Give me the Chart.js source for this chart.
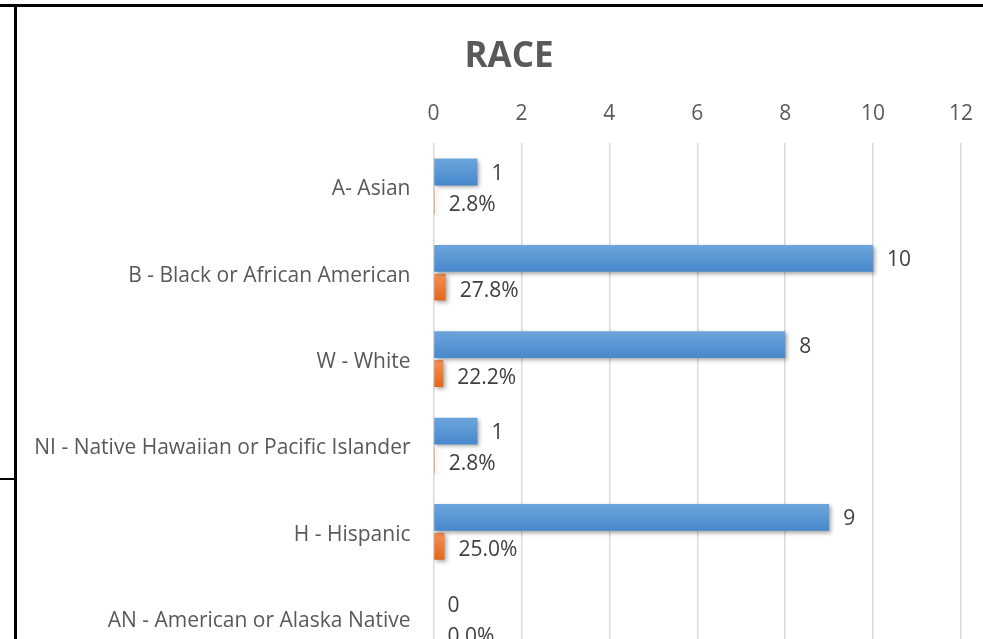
<!DOCTYPE html>
<html>
<head>
<meta charset="utf-8">
<script src="https://cdn.jsdelivr.net/npm/chart.js@4/dist/chart.umd.min.js"></script>
<style>
  html, body { margin: 0; padding: 0; background: #fff; overflow: hidden; width: 983px; height: 639px; }
  #wrap { position: absolute; left: 17px; top: 7px; width: 966px; height: 690px; }
  .ln { position: absolute; background: #000; }
</style>
</head>
<body>
<div class="ln" style="left:0;top:4px;width:983px;height:3px;"></div>
<div class="ln" style="left:14px;top:4px;width:3px;height:640px;"></div>
<div class="ln" style="left:0;top:478px;width:15px;height:2px;"></div>
<div id="wrap"><canvas id="c" width="966" height="690"></canvas></div>
<script>
const categories = [
  'A- Asian',
  'B - Black or African American',
  'W - White',
  'NI - Native Hawaiian or Pacific Islander',
  'H - Hispanic',
  'AN - American or Alaska Native'
];
const counts = [1, 10, 8, 1, 9, 0];
const shares = [0.028, 0.278, 0.222, 0.028, 0.25, 0.0];
const shareLabels = ['2.8%', '27.8%', '22.2%', '2.8%', '25.0%', '0.0%'];
const xTicks = [0, 2, 4, 6, 8, 10, 12];

const FONT = "'Open Sans', 'Noto Sans', sans-serif";
const TXT = '#595959';
const CAT_PCT = 0.667;

function scriptedFill(which, c1, c2) {
  return function (context) {
    const chart = context.chart;
    const y = chart.scales && chart.scales.y;
    if (!y || context.dataIndex === undefined) return c1;
    const center = y.getPixelForValue(context.dataIndex);
    const step = y.getPixelForValue(1) - y.getPixelForValue(0);
    if (!isFinite(center) || !isFinite(step) || step === 0) return c1;
    const half = step * CAT_PCT / 2;
    const top = which === 0 ? center - half : center;
    const bottom = which === 0 ? center : center + half;
    const g = chart.ctx.createLinearGradient(0, top, 0, bottom);
    g.addColorStop(0, c1);
    g.addColorStop(1, c2);
    return g;
  };
}

const shadowPlugin = {
  id: 'shadow',
  beforeDatasetsDraw(chart) {
    const ctx = chart.ctx;
    ctx.save();
    ctx.shadowColor = 'rgba(0,0,0,0.35)';
    ctx.shadowBlur = 4;
    ctx.shadowOffsetX = 2;
    ctx.shadowOffsetY = 2;
  },
  afterDatasetsDraw(chart) {
    chart.ctx.restore();
  }
};

const labelPlugin = {
  id: 'valueLabels',
  afterDatasetsDraw(chart) {
    const ctx = chart.ctx;
    ctx.save();
    ctx.font = '21px ' + FONT;
    ctx.fillStyle = '#404040';
    ctx.textBaseline = 'middle';
    ctx.textAlign = 'left';
    chart.data.datasets.forEach((ds, di) => {
      const meta = chart.getDatasetMeta(di);
      meta.data.forEach((el, i) => {
        const txt = di === 0 ? String(counts[i]) : shareLabels[i];
        ctx.fillText(txt, el.x + 14, el.y + (di === 0 ? 2 : 4));
      });
    });
    ctx.restore();
  }
};

new Chart(document.getElementById('c'), {
  type: 'bar',
  data: {
    labels: categories,
    datasets: [
      {
        label: 'Count',
        data: counts,
        backgroundColor: scriptedFill(0, '#6ea6dd', '#4587cb'),
        categoryPercentage: CAT_PCT,
        barPercentage: 0.93
      },
      {
        label: 'Percent',
        data: shares,
        backgroundColor: scriptedFill(1, '#f49256', '#e3651b'),
        categoryPercentage: CAT_PCT,
        barPercentage: 0.93
      }
    ]
  },
  options: {
    indexAxis: 'y',
    responsive: false,
    animation: false,
    layout: { padding: { left: 40, right: 22, top: 0, bottom: 25 } },
    plugins: {
      legend: { display: false },
      tooltip: { enabled: false },
      title: {
        display: true,
        text: 'RACE',
        color: TXT,
        font: { family: FONT, size: 35, weight: 'bold' },
        padding: { top: 29, bottom: 6 }
      }
    },
    scales: {
      x: {
        position: 'top',
        min: 0,
        max: 12,
        afterBuildTicks(axis) { axis.ticks = xTicks.map(v => ({ value: v })); },
        afterFit(axis) { axis.paddingLeft = 0; axis.paddingRight = 0; },
        grid: { color: '#d9d9d9', lineWidth: 1.5, drawTicks: false },
        border: { display: false },
        ticks: { color: TXT, font: { family: FONT, size: 21 }, padding: 17 }
      },
      y: {
        grid: { display: false, drawTicks: false },
        border: { display: false },
        afterFit(axis) {
          axis.width = 376.5;
          axis._computeLabelArea = function () { return undefined; };
        },
        ticks: { color: TXT, font: { family: FONT, size: 21 }, padding: 23, labelOffset: 3 }
      }
    }
  },
  plugins: [shadowPlugin, labelPlugin]
});
</script>
</body>
</html>
